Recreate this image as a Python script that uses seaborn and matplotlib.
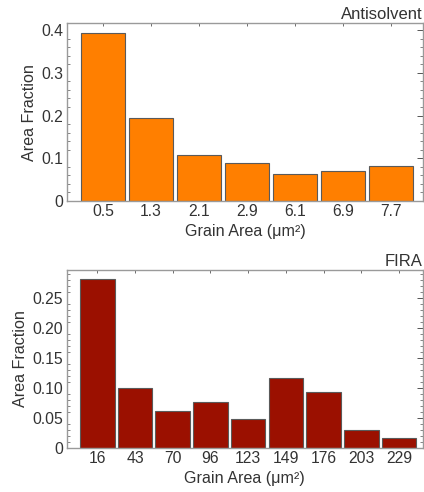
import matplotlib
matplotlib.use("Agg")
import matplotlib.pyplot as plt
from matplotlib.ticker import MultipleLocator, FixedLocator, FixedFormatter
import seaborn as sns

# Grain-size distributions for the two processing routes
antisolvent_bins = ["0.5", "1.3", "2.1", "2.9", "6.1", "6.9", "7.7"]
antisolvent_frac = [0.394, 0.193, 0.108, 0.088, 0.062, 0.071, 0.083]

fira_bins = ["16", "43", "70", "96", "123", "149", "176", "203", "229"]
fira_frac = [0.282, 0.100, 0.062, 0.077, 0.048, 0.116, 0.094, 0.030, 0.017]

sns.set_style("white")
plt.rcParams["font.family"] = ["Liberation Sans", "DejaVu Sans"]

fig = plt.figure(figsize=(4.24, 4.92), dpi=100)
ax1 = fig.add_axes([0.158, 0.5915, 0.8396, 0.3611])
ax2 = fig.add_axes([0.157, 0.0894, 0.8406, 0.3618])

frame_col = "#9a9a9a"
text_col = "#333333"


def draw(ax, bins, frac, color, title, ylim, yticks, ylabels, minor, xlo, xhi):
    sns.barplot(x=bins, y=frac, color=color, saturation=1, width=0.92,
                edgecolor="#5a5a5a", linewidth=0.8, ax=ax)
    ax.set_xlim(xlo, xhi)
    ax.set_ylim(0, ylim)
    ax.yaxis.set_major_locator(FixedLocator(yticks))
    ax.yaxis.set_major_formatter(FixedFormatter(ylabels))
    ax.yaxis.set_minor_locator(MultipleLocator(minor))
    for s in ax.spines.values():
        s.set_color(frame_col)
        s.set_linewidth(1.0)
        s.set_visible(True)
    ax.tick_params(axis="both", which="both", direction="in", color="#555555",
                   top=True, right=True, labelsize=11.3, labelcolor=text_col)
    ax.tick_params(axis="y", which="major", length=4, width=0.7, pad=2.5)
    ax.tick_params(axis="y", which="minor", length=2, width=0.5, left=True, right=True)
    ax.tick_params(axis="x", which="major", length=2.5, width=0.6, pad=2.5)
    ax.set_xlabel("Grain Area (\u03bcm\u00b2)", fontsize=11.6, color=text_col, labelpad=3)
    ax.set_ylabel("Area Fraction", fontsize=11.6, color=text_col, labelpad=3)
    ax.set_title(title, loc="right", fontsize=12, color=text_col, pad=3)


draw(ax1, antisolvent_bins, antisolvent_frac, "#ff7f00", "Antisolvent",
     0.4157, [0, 0.1, 0.2, 0.3, 0.4], ["0", "0.1", "0.2", "0.3", "0.4"], 0.02,
     -0.75, 6.66)
draw(ax2, fira_bins, fira_frac, "#9b1000", "FIRA",
     0.2967, [0, 0.05, 0.10, 0.15, 0.20, 0.25],
     ["0", "0.05", "0.10", "0.15", "0.20", "0.25"], 0.01,
     -0.82, 8.64)

fig.savefig("out.png", dpi=100)
